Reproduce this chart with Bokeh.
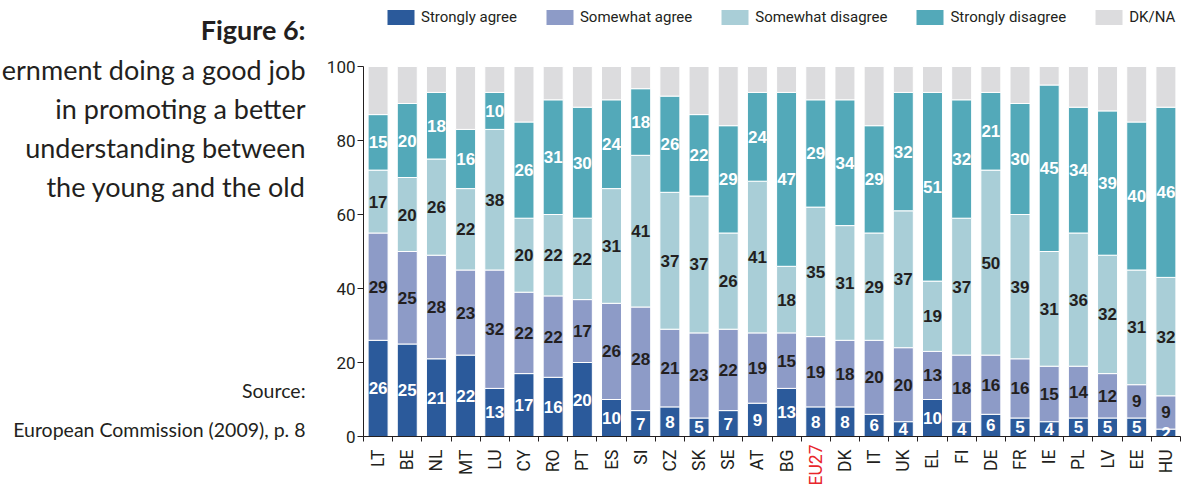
import math
from bokeh.plotting import figure
from bokeh.models import Range1d, FixedTicker, Legend, LegendItem, ColumnDataSource
from bokeh.embed import file_html
from bokeh.resources import INLINE
from bokeh.core.properties import value

countries = ["LT", "BE", "NL", "MT", "LU", "CY", "RO", "PT", "ES", "SI", "CZ", "SK", "SE", "AT",
             "BG", "EU27", "DK", "IT", "UK", "EL", "FI", "DE", "FR", "IE", "PL", "LV", "EE", "HU"]
strongly_agree = [26, 25, 21, 22, 13, 17, 16, 20, 10, 7, 8, 5, 7, 9, 13, 8, 8, 6, 4, 10, 4, 6, 5, 4, 5, 5, 5, 2]
somewhat_agree = [29, 25, 28, 23, 32, 22, 22, 17, 26, 28, 21, 23, 22, 19, 15, 19, 18, 20, 20, 13, 18, 16, 16, 15, 14, 12, 9, 9]
somewhat_disagree = [17, 20, 26, 22, 38, 20, 22, 22, 31, 41, 37, 37, 26, 41, 18, 35, 31, 29, 37, 19, 37, 50, 39, 31, 36, 32, 31, 32]
strongly_disagree = [15, 20, 18, 16, 10, 26, 31, 30, 24, 18, 26, 22, 29, 24, 47, 29, 34, 29, 32, 51, 32, 21, 30, 45, 34, 39, 40, 46]
dk_na = [13, 10, 7, 17, 7, 15, 9, 11, 9, 6, 8, 13, 16, 7, 7, 9, 9, 16, 7, 7, 9, 7, 10, 5, 11, 12, 15, 11]

series_names = ["Strongly agree", "Somewhat agree", "Somewhat disagree", "Strongly disagree", "DK/NA"]
series_keys = ["sa", "wa", "wd", "sd", "dk"]
colors = ["#2b5a9b", "#8d9bc7", "#a9ced7", "#53a9b9", "#dcdcde"]
label_colors = ["white", "#231f20", "#231f20", "white"]
y_ticks = [0, 20, 40, 60, 80, 100]
highlight = "EU27"

title_bold = "Figure 6:"
title_lines = ["ernment doing a good job", "in promoting a better",
               "understanding between", "the young and the old"]
source_lines = ["Source:", "European Commission (2009), p. 8"]

INK = "#231f20"
AXFONT = "Roboto"

W, H = 1184, 487
FRAME_L, FRAME_R = 363, 1180      # x pixel of left/right end of category band
Y0, Y100 = 436, 66                # y pixel of value 0 and 100
n = len(countries)
PXC = (FRAME_R - FRAME_L) / n      # pixels per category
PX = (Y0 - Y100) / 100             # pixels per percentage point


def dx(px):  # page x pixel -> data x
    return (px - FRAME_L) / PXC - 0.5


def dy(py):  # page y pixel -> data y
    return (Y0 - py) / PX


p = figure(width=W, height=H, x_range=Range1d(dx(0), dx(W)), y_range=Range1d(dy(H), dy(0)),
           toolbar_location=None, output_backend="svg", min_border=0)
p.outline_line_color = None
p.grid.visible = False

xs = list(range(n))
src = ColumnDataSource(dict(x=xs, sa=strongly_agree, wa=somewhat_agree, wd=somewhat_disagree,
                            sd=strongly_disagree, dk=dk_na))
rs = p.vbar_stack(series_keys, x="x", width=0.685, color=colors, line_color="white",
                  line_width=1, source=src)

# value labels inside segments
lx, ly, lt, lc = [], [], [], []
cols = [strongly_agree, somewhat_agree, somewhat_disagree, strongly_disagree]
for i in range(n):
    base = 0
    for k, col in enumerate(cols):
        v = col[i]
        lx.append(i)
        ly.append(base + v / 2)
        lt.append(str(v))
        lc.append(label_colors[k])
        base += v
lsrc = ColumnDataSource(dict(x=lx, y=ly, text=lt, color=lc))
p.text(x="x", y="y", text="text", text_color="color", source=lsrc, text_align="center",
       text_baseline="middle", text_font=value("Liberation Sans"), text_font_style="bold",
       text_font_size="17px")

# x axis at value 0, ticks between categories
xa = p.xaxis[0]
xa.fixed_location = 0
xa.bounds = (-0.5, n - 0.5)
xa.ticker = FixedTicker(ticks=xs, minor_ticks=[i - 0.5 for i in range(n + 1)])
xa.major_label_overrides = {i: ("" if c == highlight else c) for i, c in enumerate(countries)}
xa.major_tick_out = 0
xa.major_tick_in = 0
xa.minor_tick_out = 5
xa.minor_tick_in = 0
xa.major_label_orientation = math.pi / 2
xa.major_label_standoff = 8
xa.major_label_text_font = AXFONT
xa.major_label_text_font_size = "17.5px"
xa.major_label_text_color = INK
xa.axis_line_color = INK
xa.minor_tick_line_color = INK

# highlighted category label in red
hi = countries.index(highlight)
p.text(x=[hi], y=[dy(Y0 + 8)], text=[highlight], angle=math.pi / 2, text_align="right",
       text_baseline="middle", text_color="#e8262b", text_font=value(AXFONT),
       text_font_size="17.5px")

# y axis at the left edge of the category band
ya = p.yaxis[0]
ya.fixed_location = -0.5
ya.bounds = (0, 100)
ya.ticker = FixedTicker(ticks=y_ticks)
ya.major_tick_out = 6
ya.major_tick_in = 0
ya.minor_tick_line_color = None
ya.major_label_standoff = 2
ya.major_label_text_font = AXFONT
ya.major_label_text_font_size = "17px"
ya.major_label_text_color = INK
ya.axis_line_color = INK
ya.major_tick_line_color = INK

# legend across the top
legend = Legend(items=[LegendItem(label=nm, renderers=[r]) for nm, r in zip(series_names, rs)],
                orientation="horizontal", location=(383, H - 27), glyph_width=35, glyph_height=20,
                label_text_font=AXFONT, label_text_font_size="15px", label_text_color=INK,
                label_height=20, spacing=25, label_standoff=3, padding=0, margin=0,
                border_line_color=None, background_fill_alpha=0)
p.add_layout(legend, "center")

# title and source on the left
TX = dx(305)
p.text(x=[TX], y=[dy(29)], text=[title_bold], text_align="right", text_baseline="alphabetic",
       text_font=value("Lato"), text_font_style="bold", text_font_size="27px", text_color=INK)
p.text(x=[TX] * len(title_lines), y=[dy(v) for v in (68.5, 107.5, 147, 186)], text=title_lines,
       text_align="right", text_baseline="alphabetic", text_font=value("Lato"),
       text_font_size="27px", text_color=INK)
p.text(x=[TX] * 2, y=[dy(390), dy(429)], text=source_lines, text_align="right",
       text_baseline="alphabetic", text_font=value("Lato"), text_font_size="19.5px", text_color=INK)

open("out.html", "w").write(file_html(p, INLINE))
